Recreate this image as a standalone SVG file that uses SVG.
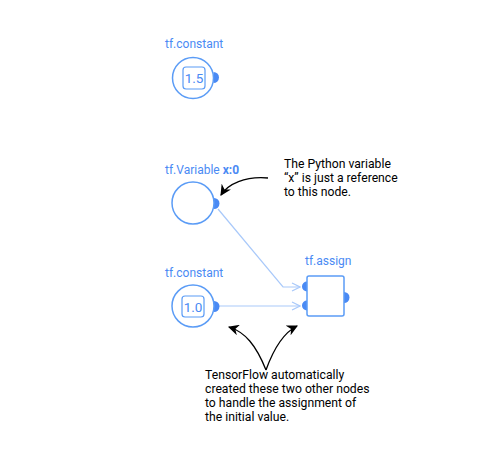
<svg xmlns="http://www.w3.org/2000/svg" width="500" height="450" viewBox="0 0 500 450">
<style>
.lbl{font-family:Roboto,"Liberation Sans",sans-serif;font-size:12px;fill:#4a8af4}
.ann{font-family:Roboto,"Liberation Sans",sans-serif;font-size:12.2px;fill:#000}
.val{font-family:Roboto,"Liberation Sans",sans-serif;font-size:13.5px;fill:#4a8af4;text-anchor:middle}
.node{fill:#fff;stroke:#5b9cf6;stroke-width:1.5}
.inner{fill:#fff;stroke:#5b9cf6;stroke-width:1.2}
.dot{fill:#4a8af4}
.edge{fill:none;stroke:#a9c9fa;stroke-width:1.2}
.ptr{fill:none;stroke:#000;stroke-width:1.3}
</style>
<defs>
<marker id="chev" viewBox="0 0 10 10" refX="9" refY="5" markerWidth="10" markerHeight="10" markerUnits="userSpaceOnUse" orient="auto">
<path d="M1,1 L9,5 L1,9" fill="none" stroke="#a9c9fa" stroke-width="1.2"/>
</marker>
<marker id="head" viewBox="0 0 10 10" refX="9" refY="5" markerWidth="11" markerHeight="11" markerUnits="userSpaceOnUse" orient="auto">
<path d="M0,0 L10,5 L0,10 L3,5 Z" fill="#000"/>
</marker>
</defs>
<g id="connectors">
<polyline class="edge" points="218,209 283,287 300,287" marker-end="url(#chev)"/>
<line class="edge" x1="218" y1="306" x2="300" y2="306" marker-end="url(#chev)"/>
<path class="ptr" d="M268,178 C245,176 228,184 221,195" marker-end="url(#head)"/>
<path class="ptr" d="M266,370 C256,345 245,332 229,327" marker-end="url(#head)"/>
<path class="ptr" d="M266,370 C275,345 285,332 297,326" marker-end="url(#head)"/>
</g>
<g id="const1">
<text class="lbl" x="165" y="48">tf.constant</text>
<path class="dot" d="M213.5,72 A5.5,5.5 0 0 1 213.5,83 Z"/>
<circle class="node" cx="193" cy="78" r="20.5"/>
<rect class="inner" x="183" y="67" width="22" height="22" rx="3"/>
<text class="val" x="194" y="83">1.5</text>
</g>
<g id="variable">
<text class="lbl" x="165" y="174">tf.Variable <tspan font-weight="bold">x:0</tspan></text>
<path class="dot" d="M214,198 A5.5,5.5 0 0 1 214,209 Z"/>
<circle class="node" cx="193" cy="203" r="21"/>
</g>
<g id="const2">
<text class="lbl" x="165" y="277">tf.constant</text>
<path class="dot" d="M214,301 A5.5,5.5 0 0 1 214,312 Z"/>
<circle class="node" cx="193" cy="306" r="21"/>
<rect class="inner" x="182" y="296" width="22" height="21" rx="3"/>
<text class="val" x="193" y="311.5">1.0</text>
</g>
<g id="assign">
<text class="lbl" x="305" y="265">tf.assign</text>
<path class="dot" d="M307,281.5 A5,5 0 0 0 307,291.5 Z"/>
<path class="dot" d="M307,300.5 A5,5 0 0 0 307,310.5 Z"/>
<path class="dot" d="M344,292 A5.5,5.5 0 0 1 344,303 Z"/>
<rect class="node" x="307" y="276" width="37" height="40" rx="2"/>
</g>
<g id="note1">
<text class="ann" x="284" y="168">The Python variable</text>
<text class="ann" x="284" y="182">“x” is just a reference</text>
<text class="ann" x="284" y="196">to this node.</text>
</g>
<g id="note2">
<text class="ann" x="205" y="379">TensorFlow automatically</text>
<text class="ann" x="205" y="393">created these two other nodes</text>
<text class="ann" x="205" y="407">to handle the assignment of</text>
<text class="ann" x="205" y="421">the initial value.</text>
</g>
</svg>
